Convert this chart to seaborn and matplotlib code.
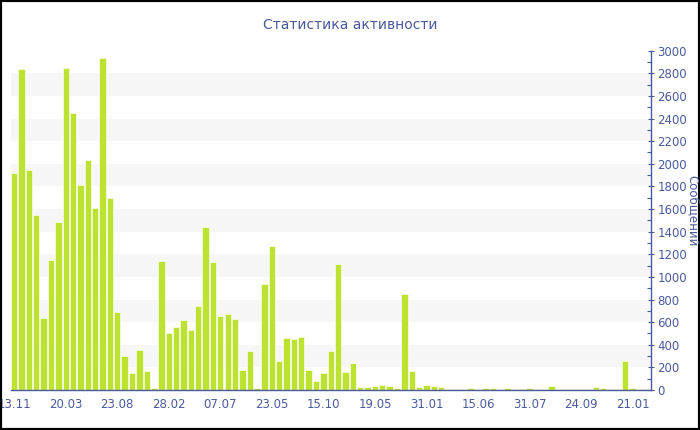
import matplotlib
matplotlib.use("Agg")
import matplotlib.pyplot as plt
from matplotlib.patches import Rectangle
from matplotlib.ticker import MultipleLocator
import seaborn as sns
import pandas as pd

# ---- data ----
values = [1916, 2835, 1945, 1547, 634, 1149, 1482, 2847, 2446, 1812,
          2033, 1612, 2932, 1697, 694, 303, 153, 354, 171, 18,
          1140, 507, 554, 619, 530, 746, 1441, 1134, 654, 670,
          625, 177, 345, 15, 940, 1276, 254, 460, 451, 472,
          174, 82, 147, 347, 1117, 159, 239, 24, 29, 35,
          44, 35, 18, 849, 171, 29, 41, 32, 29, 9,
          10, 12, 15, 12, 18, 15, 10, 15, 10, 10,
          22, 12, 10, 35, 12, 10, 10, 12, 10, 25,
          15, 10, 8, 255, 20, 10, 8]
tick_labels = ["13.11", "20.03", "23.08", "28.02", "07.07", "23.05", "15.10",
               "19.05", "31.01", "15.06", "31.07", "24.09", "21.01"]
tick_step = 7
title = "Статистика активности"
ylabel = "Сообщений"

blue = "#4a5a9f"
bar_color = "#bde232"

df = pd.DataFrame({"idx": list(range(len(values))), "value": values})

sns.set_style("white")
plt.rcParams["font.family"] = ["DejaVu Sans"]

fig = plt.figure(figsize=(7, 4.3), dpi=100)
ax = fig.add_axes([10.5 / 700, 40 / 430, (651 - 10.5) / 700, (390 - 50.7) / 430])

# alternating bands
for lo in range(200, 3000, 400):
    ax.axhspan(lo, lo + 200, color="#f7f7f7", zorder=0, lw=0)

sns.barplot(data=df, x="idx", y="value", order=list(range(len(values))),
            color=bar_color, saturation=1, width=0.86, edgecolor="#f4fbdc",
            linewidth=0.6, ax=ax, zorder=2)

ax.set_xlim(-0.5, len(values) - 0.5)
ax.set_ylim(0, 3000)

ax.set_xticks(list(range(0, len(values), tick_step))[:len(tick_labels)])
ax.set_xticklabels(tick_labels)
ax.set_xlabel("")
ax.set_ylabel("")

ax.yaxis.tick_right()
ax.yaxis.set_major_locator(MultipleLocator(200))
ax.yaxis.set_minor_locator(MultipleLocator(100))
ax.tick_params(axis="y", which="major", direction="inout", length=5, width=0.8,
               color=blue, labelcolor=blue, labelsize=8.5, pad=2)
ax.tick_params(axis="y", which="minor", direction="in", length=3, width=0.8,
               color=blue)
ax.tick_params(axis="x", which="major", direction="out", length=4, width=0.8,
               color=blue, labelcolor=blue, labelsize=8.5, pad=2)

for s in ["left", "top"]:
    ax.spines[s].set_visible(False)
for s in ["right", "bottom"]:
    ax.spines[s].set_color(blue)
    ax.spines[s].set_linewidth(1)
ax.grid(False)
ax.set_facecolor("white")

fig.text(0.5, 1 - 25 / 430, title, ha="center", va="center", color=blue,
         fontsize=10)
fig.text(0.989, 0.51, ylabel, ha="center", va="center", rotation=270,
         color=blue, fontsize=8.5)

fig.patches.append(Rectangle((0, 0), 1, 1, transform=fig.transFigure,
                             fill=False, edgecolor="black", linewidth=3,
                             clip_on=False))

fig.savefig("out.png", dpi=100, facecolor="white")
